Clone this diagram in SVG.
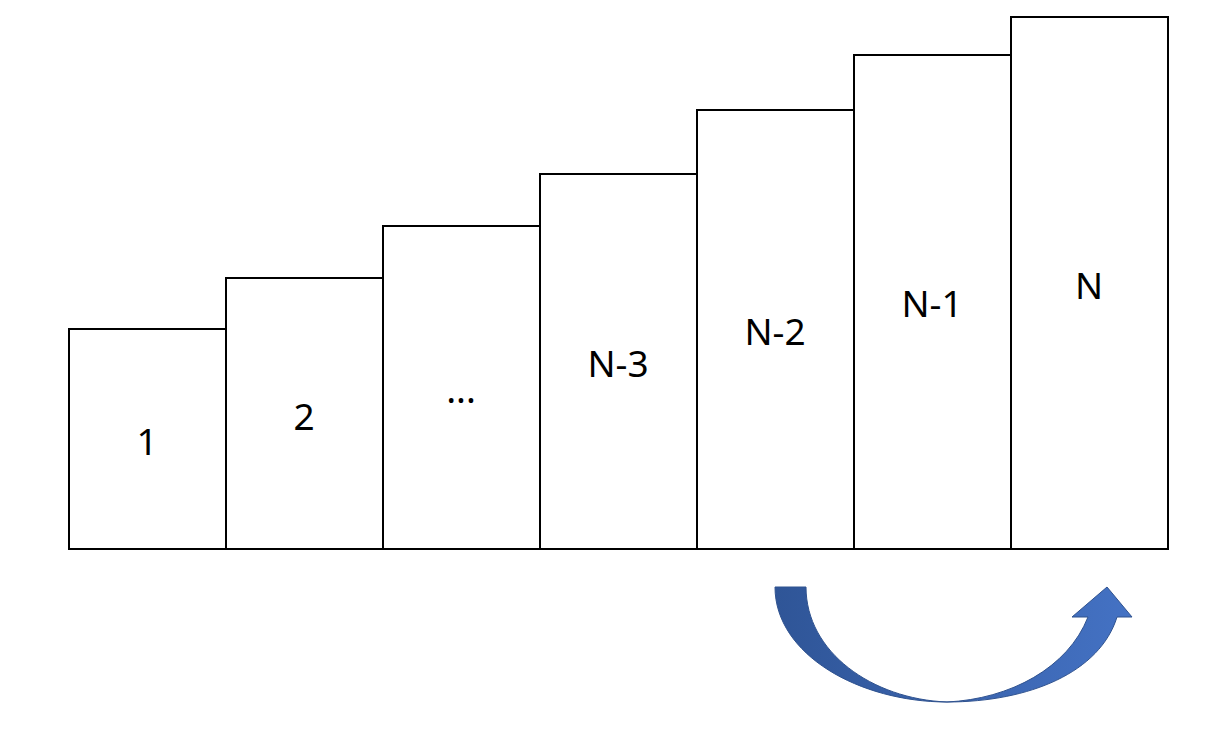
<svg xmlns="http://www.w3.org/2000/svg" width="1210" height="741" viewBox="0 0 1210 741">
<style>
.bar{fill:#fff;stroke:#000;stroke-width:2}
.lbl{font-family:"Noto Sans","DejaVu Sans",sans-serif;font-size:37px;fill:#000;text-anchor:middle}
</style>
<defs>
<linearGradient id="ag" x1="0" y1="0" x2="1" y2="0">
<stop offset="0" stop-color="#2f5597"/>
<stop offset="1" stop-color="#4472c4"/>
</linearGradient>
</defs>
<rect width="1210" height="741" fill="#fff"/>
<g id="bar1"><rect class="bar" x="69" y="329" width="157" height="220"/><text class="lbl" x="147" y="455">1</text></g>
<g id="bar2"><rect class="bar" x="226" y="278" width="157" height="271"/><text class="lbl" x="304" y="430">2</text></g>
<g id="bar3"><rect class="bar" x="383" y="226" width="157" height="323"/><text class="lbl" x="461" y="403">...</text></g>
<g id="bar4"><rect class="bar" x="540" y="174" width="157" height="375"/><text class="lbl" x="618" y="377">N-3</text></g>
<g id="bar5"><rect class="bar" x="697" y="110" width="157" height="439"/><text class="lbl" x="775" y="345">N-2</text></g>
<g id="bar6"><rect class="bar" x="854" y="55" width="157" height="494"/><text class="lbl" x="932" y="317">N-1</text></g>
<g id="bar7"><rect class="bar" x="1011" y="17" width="157" height="532"/><text class="lbl" x="1089" y="299">N</text></g>
<g id="connectors">
<path d="M775,587 C775,655 860,702 947,702 C1030,702 1100,672 1117,617 L1132,617 L1107,587 L1072,617 L1088,617 C1068,668 1010,699 947,702 C872,699 806,652 806,587 Z" fill="url(#ag)" stroke="#2f528f" stroke-width="1"/>
</g>
</svg>
